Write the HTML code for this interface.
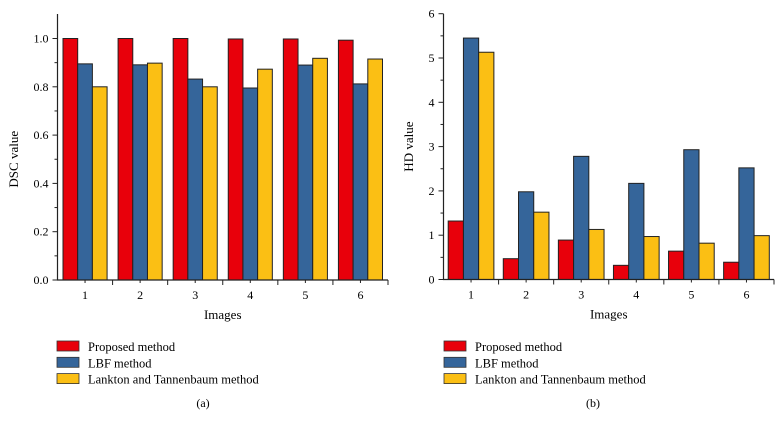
<!DOCTYPE html>
<html><head><meta charset="utf-8"><style>
body{margin:0;background:#fff}
svg{display:block;font-family:"Liberation Serif",serif}
</style></head><body>
<svg id="c" width="783" height="429"></svg>
<script>
const categories=["1","2","3","4","5","6"];
const seriesNames=["Proposed method","LBF method","Lankton and Tannenbaum method"];
const dscProposed=[1.0,1.0,1.0,0.998,0.998,0.993];
const dscLBF=[0.895,0.891,0.832,0.795,0.890,0.812];
const dscLankton=[0.800,0.898,0.800,0.873,0.918,0.915];
const hdProposed=[1.32,0.47,0.89,0.32,0.64,0.39];
const hdLBF=[5.45,1.98,2.78,2.17,2.93,2.52];
const hdLankton=[5.13,1.52,1.13,0.97,0.82,0.99];
const dscTicks=["0.0","0.2","0.4","0.6","0.8","1.0"];
const hdTicks=["0","1","2","3","4","5","6"];
const colors=["#e8000b","#35659a","#fbbf14"];
const NS="http://www.w3.org/2000/svg";
const svg=document.getElementById('c');
function mk(t,a,txt){const e=document.createElementNS(NS,t);for(const k in a)e.setAttribute(k,a[k]);if(txt!==undefined)e.textContent=txt;svg.appendChild(e);return e;}
function chart(o){
 const y=v=>o.y0-(v-o.vmin)/(o.vmax-o.vmin)*(o.y0-o.yTop);
 const gw=(o.x1-o.x0)/categories.length;
 o.series.forEach((s,si)=>{s.forEach((v,i)=>{
  const bw=(gw-2*o.m)/3;
  const r=mk('rect',{x:o.x0+i*gw+o.m+si*bw,y:y(v),width:bw,height:o.y0-y(v),fill:colors[si],stroke:'#222','stroke-width':1});
  
  
 });});
 const ax=mk('path',{d:`M${o.x0},${o.axTop}V${o.y0}H${o.x1}`,stroke:'#222',fill:'none','stroke-width':1.2});
 
 o.ticks.forEach((t,i)=>{const v=parseFloat(t);const yy=y(v);
  mk('line',{x1:o.x0-5,x2:o.x0,y1:yy,y2:yy,stroke:'#222'});
  if(i<o.ticks.length-1){const ym=y(v+o.step/2);mk('line',{x1:o.x0-3,x2:o.x0,y1:ym,y2:ym,stroke:'#222'});}
  const tl=mk('text',{x:o.x0-9,y:yy+4,'text-anchor':'end','font-size':12},t);
  
 });
 categories.forEach((c,i)=>{const xe=o.x0+(i+1)*gw;mk('line',{x1:xe,x2:xe,y1:o.y0,y2:o.y0+5,stroke:'#222'});
  const xc=o.x0+(i+.5)*gw;mk('line',{x1:xc,x2:xc,y1:o.y0,y2:o.y0+3,stroke:'#222'});
  const tl=mk('text',{x:xc,y:o.y0+19,'text-anchor':'middle','font-size':12},c);
  });
 const xt=mk('text',{x:(o.x0+o.x1)/2,y:o.y0+39,'text-anchor':'middle','font-size':13},'Images');
 
 const yt=mk('text',{x:0,y:0,'text-anchor':'middle','font-size':13,transform:`translate(${o.ylabX},${(o.y0+o.yTop)/2}) rotate(-90)`},o.ylabel);
 
 seriesNames.forEach((n,i)=>{const yy=341+i*16.3;
  const sw=mk('rect',{x:o.lx,y:yy,width:22,height:10,fill:colors[i],stroke:'#333','stroke-width':0.8});
  
  const lt=mk('text',{x:o.lx+31,y:yy+10,'font-size':12.5},n);
  });
 const cap=mk('text',{x:o.capX,y:407,'text-anchor':'middle','font-size':12},o.cap);
 
}
chart({id:'dsc',x0:57.5,x1:388,y0:280,yTop:38.5,vmin:0,vmax:1,axTop:14,m:5.5,step:0.2,
 series:[dscProposed,dscLBF,dscLankton],ticks:dscTicks,ylabel:'DSC value',ylabX:18,lx:57,capX:203,cap:'(a)'});
chart({id:'hd',x0:443.5,x1:774,y0:279.5,yTop:13.7,vmin:0,vmax:6,axTop:13.7,m:4.7,step:1,
 series:[hdProposed,hdLBF,hdLankton],ticks:hdTicks,ylabel:'HD value',ylabX:413,lx:444,capX:593,cap:'(b)'});
</script>
</body></html>
